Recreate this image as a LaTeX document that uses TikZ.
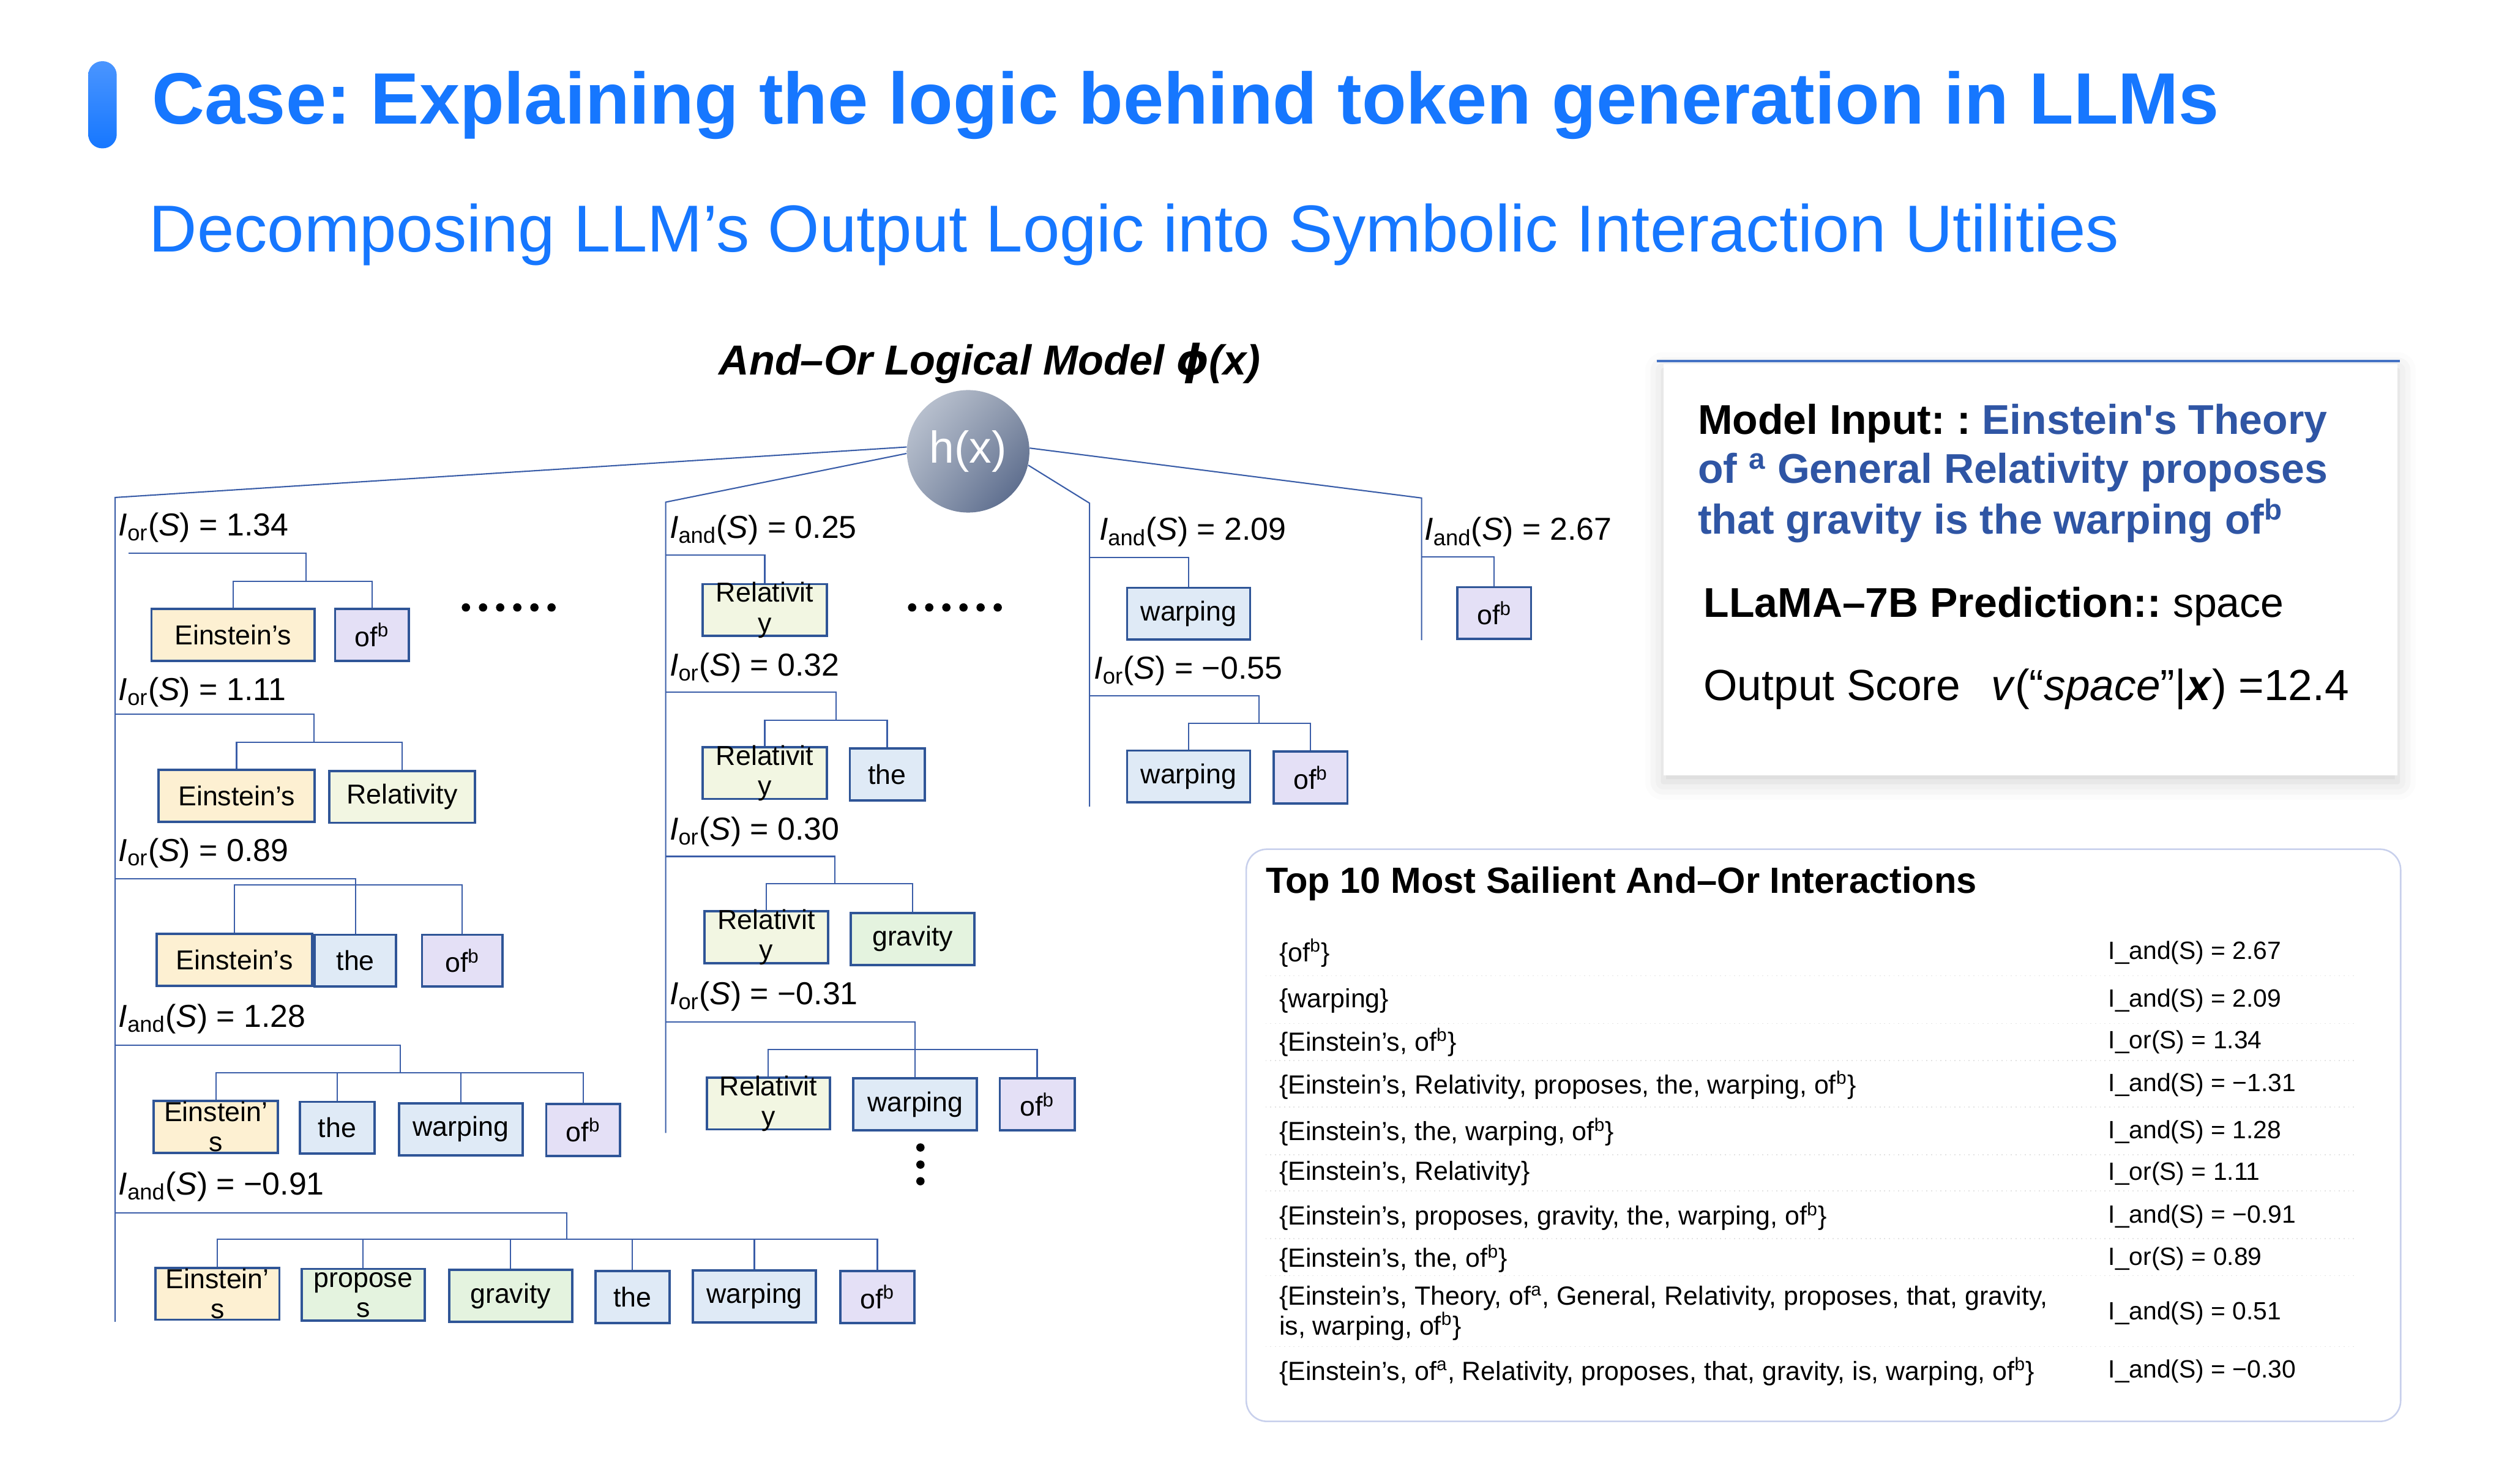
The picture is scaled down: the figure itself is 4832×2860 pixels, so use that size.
\documentclass[tikz,border=0pt]{standalone}
\usepackage{fontspec}
\setmainfont{Liberation Sans}
\newfontfamily\greekfont{DejaVu Sans}
\usetikzlibrary{shadings,shadows.blur}
\frenchspacing

\definecolor{headblue}{HTML}{1677FF}
\definecolor{barlight}{HTML}{4A95FF}
\definecolor{boxblue}{HTML}{2F5597}
\definecolor{linkblue}{HTML}{3A5DA8}
\definecolor{inputblue}{HTML}{2F55A4}
\definecolor{topline}{HTML}{4472C4}
\definecolor{panelline}{HTML}{C8D0EC}
\definecolor{sepgray}{HTML}{E2E2E2}
\definecolor{einfill}{HTML}{FDF0D2}
\definecolor{offill}{HTML}{E4E0F6}
\definecolor{thefill}{HTML}{DFEAF6}
\definecolor{relfill}{HTML}{F2F6E2}
\definecolor{gravfill}{HTML}{E4F3DF}
\definecolor{ballA}{HTML}{C6CDD9}
\definecolor{ballB}{HTML}{8D98AC}
\definecolor{ballC}{HTML}{98A3B6}
\definecolor{ballD}{HTML}{4B5D82}

\newcommand{\headfont}{\fontsize{39.9pt}{46pt}\selectfont\bfseries}
\newcommand{\subfont}{\fontsize{36.4pt}{42pt}\selectfont}
\newcommand{\modelfont}{\fontsize{23pt}{27pt}\selectfont\bfseries\itshape}
\newcommand{\lblfont}{\fontsize{17.4pt}{21pt}\selectfont}
\newcommand{\tokfont}{\fontsize{15pt}{16.5pt}\selectfont}
\newcommand{\inputfont}{\fontsize{22.8pt}{27pt}\selectfont}
\newcommand{\scorefont}{\fontsize{23.9pt}{28pt}\selectfont}
\newcommand{\tabheadfont}{\fontsize{20pt}{24pt}\selectfont\bfseries}
\newcommand{\rowfont}{\fontsize{14.4pt}{16.2pt}\selectfont}
\newcommand{\valfont}{\fontsize{13.7pt}{16.2pt}\selectfont}
\newcommand{\Ior}{\textit{I}\textsubscript{or}(\textit{S}) = }
\newcommand{\Iand}{\textit{I}\textsubscript{and}(\textit{S}) = }
\newcommand{\ofb}{of\textsuperscript{b}}

\begin{document}
\begin{tikzpicture}[x=0.01cm, y=-0.01cm,
    link/.style={draw=linkblue, line width=0.025cm},
    tok/.style={draw=boxblue, line width=0.045cm, inner sep=0, minimum height=1cm, font=\tokfont},
    wraptext/.style={align=center, inner sep=0, font=\tokfont},
    lbl/.style={anchor=base west, inner sep=0, font=\lblfont},
    row/.style={anchor=west, inner sep=0, align=left, font=\rowfont},
    inp/.style={anchor=base west, inner sep=0, font=\inputfont}]
\useasboundingbox (0,0) rectangle (4832,2860);

\shade[top color=barlight, bottom color=headblue, rounded corners=0.27cm] (170,118) rectangle (225,286);
\node[anchor=base west, inner sep=0, font=\headfont, text=headblue] (head) at (293,239) {Case: Explaining the logic behind token generation in LLMs};
\node[anchor=base west, inner sep=0, font=\subfont, text=headblue] (sub) at (287,485) {Decomposing LLM’s Output Logic into Symbolic Interaction Utilities};

\node[anchor=base west, inner sep=0, font=\modelfont] (mtitle) at (1385,723) {And–Or Logical Model {\greekfont ϕ}(x)};
\node[circle, minimum size=2.36cm, inner sep=0, upper left=ballA, upper right=ballB, lower left=ballC, lower right=ballD, text=white, font=\fontsize{24.5pt}{28pt}\selectfont] (hx) at (1866,870) {h(x)};

\coordinate (trunkL) at (222,959);   \coordinate (trunkLend) at (222,2548);
\coordinate (trunkM) at (1283,968);  \coordinate (trunkMend) at (1283,2184);
\coordinate (trunkR) at (2100,970);  \coordinate (trunkRend) at (2100,1555);
\coordinate (trunkF) at (2740,960);  \coordinate (trunkFend) at (2740,1234);
\draw[link] (hx.176) -- (trunkL) -- (trunkLend);
\draw[link] (hx.182) -- (trunkM) -- (trunkMend);
\draw[link] (hx.-13) -- (trunkR) -- (trunkRend);
\draw[link] (hx.3) -- (trunkF) -- (trunkFend);

\node[lbl] (lblA) at (228,1033) {\Ior1.34};
\node[tok, fill=einfill, minimum width=3.14cm] (einA) at (449,1224) {Einstein’s};
\node[tok, fill=offill, minimum width=1.42cm] (ofA) at (717,1224) {\ofb};
\coordinate (sA) at (248,1066); \coordinate (jA) at (590,1121);
\draw[link] (sA) -| (jA);
\draw[link] (einA.north) |- (jA) -| (ofA.north);
\foreach \i in {0,...,5} \fill (898+\i*33,1171) circle (0.08cm);

\node[lbl] (lblB) at (228,1350) {\Ior1.11};
\node[tok, fill=einfill, minimum width=3.01cm] (einB) at (456,1534) {Einstein’s};
\node[tok, fill=relfill, minimum width=2.80cm] (relB) at (775,1536) {Relativity};
\coordinate (sB) at (222,1377); \coordinate (jB) at (605,1431);
\draw[link] (sB) -| (jB);
\draw[link] (einB.north) |- (jB) -| (relB.north);

\node[lbl] (lblC) at (228,1660) {\Ior0.89};
\node[tok, fill=einfill, minimum width=3.00cm] (einC) at (452,1850) {Einstein’s};
\node[tok, fill=thefill, minimum width=1.57cm] (theC) at (685,1852) {the};
\node[tok, fill=offill, minimum width=1.55cm] (ofC) at (891,1852) {\ofb};
\coordinate (sC) at (222,1694); \coordinate (jC) at (685,1706);
\draw[link] (sC) -| (theC.north);
\draw[link] (einC.north) |- (jC) -| (ofC.north);

\node[lbl] (lblD) at (228,1980) {\Iand1.28};
\node[tok, fill=einfill, minimum width=2.39cm, label={[wraptext]center:Einstein’\\s}] (einD) at (416,2172) {};
\node[tok, fill=thefill, minimum width=1.43cm] (theD) at (650,2174) {the};
\node[tok, fill=thefill, minimum width=2.38cm] (warpD) at (888,2177) {warping};
\node[tok, fill=offill, minimum width=1.42cm] (ofD) at (1124,2178) {\ofb};
\coordinate (sD) at (222,2015); \coordinate (jD) at (772,2068);
\draw[link] (sD) -| (jD);
\draw[link] (einD.north) |- (jD) -| (ofD.north);
\foreach \n in {theD,warpD} \draw[link] (\n.north) -- (\n.north |- jD);

\node[lbl] (lblE) at (228,2303) {\Iand−0.91};
\node[tok, fill=einfill, minimum width=2.39cm, label={[wraptext]center:Einstein’\\s}] (einE) at (419,2494) {};
\node[tok, fill=gravfill, minimum width=2.37cm, label={[wraptext]center:propose\\s}] (propE) at (700,2496) {};
\node[tok, fill=gravfill, minimum width=2.37cm] (gravE) at (984,2498) {gravity};
\node[tok, fill=thefill, minimum width=1.43cm] (theE) at (1219,2500) {the};
\node[tok, fill=thefill, minimum width=2.37cm] (warpE) at (1454,2499) {warping};
\node[tok, fill=offill, minimum width=1.42cm] (ofE) at (1691,2500) {\ofb};
\coordinate (sE) at (222,2338); \coordinate (jE) at (1092,2389);
\draw[link] (sE) -| (jE);
\draw[link] (einE.north) |- (jE) -| (ofE.north);
\foreach \n in {propE,gravE,theE,warpE} \draw[link] (\n.north) -- (\n.north |- jE);

\node[lbl] (lblF) at (1290,1037) {\Iand0.25};
\node[tok, fill=relfill, minimum width=2.39cm, label={[wraptext]center:Relativit\\y}] (relF) at (1474,1176) {};
\coordinate (sF) at (1283,1070);
\draw[link] (sF) -| (relF.north);
\foreach \i in {0,...,5} \fill (1758+\i*33,1171) circle (0.08cm);

\node[lbl] (lblG) at (1290,1303) {\Ior0.32};
\node[tok, fill=relfill, minimum width=2.39cm, label={[wraptext]center:Relativit\\y}] (relG) at (1474,1490) {};
\node[tok, fill=thefill, minimum width=1.44cm] (theG) at (1710,1493) {the};
\coordinate (sG) at (1283,1334); \coordinate (jG) at (1611,1388);
\draw[link] (sG) -| (jG);
\draw[link] (relG.north) |- (jG) -| (theG.north);

\node[lbl] (lblH) at (1290,1619) {\Ior0.30};
\node[tok, fill=relfill, minimum width=2.39cm, label={[wraptext]center:Relativit\\y}] (relH) at (1477,1807) {};
\node[tok, fill=gravfill, minimum width=2.38cm] (gravH) at (1759,1810) {gravity};
\coordinate (sH) at (1283,1651); \coordinate (jH) at (1609,1703);
\draw[link] (sH) -| (jH);
\draw[link] (relH.north) |- (jH) -| (gravH.north);

\node[lbl] (lblI) at (1290,1937) {\Ior−0.31};
\node[tok, fill=relfill, minimum width=2.37cm, label={[wraptext]center:Relativit\\y}] (relI) at (1481,2127) {};
\node[tok, fill=thefill, minimum width=2.38cm] (warpI) at (1764,2129) {warping};
\node[tok, fill=offill, minimum width=1.44cm] (ofI) at (1999,2129) {\ofb};
\coordinate (sI) at (1283,1970); \coordinate (jI) at (1764,2023);
\draw[link] (sI) -| (warpI.north);
\draw[link] (relI.north) |- (jI) -| (ofI.north);
\foreach \d in {2212,2245,2277} \fill (1774,\d) circle (0.08cm);

\node[lbl] (lblJ) at (2118,1041) {\Iand2.09};
\node[tok, fill=thefill, minimum width=2.37cm] (warpJ) at (2291,1183) {warping};
\coordinate (sJ) at (2100,1075);
\draw[link] (sJ) -| (warpJ.north);

\node[lbl] (lblK) at (2108,1309) {\Ior−0.55};
\node[tok, fill=thefill, minimum width=2.37cm] (warpK) at (2291,1497) {warping};
\node[tok, fill=offill, minimum width=1.42cm] (ofK) at (2526,1499) {\ofb};
\coordinate (sK) at (2100,1341); \coordinate (jK) at (2427,1394);
\draw[link] (sK) -| (jK);
\draw[link] (warpK.north) |- (jK) -| (ofK.north);

\node[lbl] (lblL) at (2745,1041) {\Iand2.67};
\node[tok, fill=offill, minimum width=1.42cm] (ofL) at (2880,1182) {\ofb};
\coordinate (sL) at (2740,1074);
\draw[link] (sL) -| (ofL.north);

\path[fill=white, blur shadow={shadow xshift=0cm, shadow yshift=-0.12cm, shadow blur radius=0.35cm, shadow opacity=18}] (3206,702) rectangle (4621,1495);
\draw[topline, line width=0.05cm] (3193,696) -- (4625,696);
\node[inp] (in1) at (3272,837) {\textbf{Model Input: : }\textcolor{inputblue}{\textbf{Einstein\textquotesingle s Theory}}};
\node[inp, text=inputblue, font=\inputfont\bfseries] (in2) at (3272,931) {of \textsuperscript{a} General Relativity proposes};
\node[inp, text=inputblue, font=\inputfont\bfseries] (in3) at (3272,1029) {that gravity is the warping \ofb};
\node[inp] (pred) at (3283,1190) {\textbf{LLaMA–7B Prediction::} space};
\node[inp, font=\scorefont] (score) at (3283,1350) {Output Score\hspace{0.7em}\textit{v}(“\textit{space}”|\textbf{\textit{x}}) =12.4};

\draw[panelline, line width=0.03cm, fill=white, rounded corners=0.4cm] (2402,1637) rectangle (4627,2740);
\node[anchor=base west, inner sep=0, font=\tabheadfont] (tabhead) at (2439,1722) {Top 10 Most Sailient And–Or Interactions};
\foreach \y in {1881,1973,2044,2134,2226,2296,2388,2459,2596}
  \draw[sepgray, line width=0.02cm, dotted] (2439,\y) -- (4544,\y);
\foreach \y/\s/\v [count=\i] in {
    1837/{\{\ofb\}}/{I\_and(S) = 2.67},
    1929/{\{warping\}}/{I\_and(S) = 2.09},
    2009/{\{Einstein’s, \ofb\}}/{I\_or(S) = 1.34},
    2092/{\{Einstein’s, Relativity, proposes, the, warping, \ofb\}}/{I\_and(S) = −1.31},
    2182/{\{Einstein’s, the, warping, \ofb\}}/{I\_and(S) = 1.28},
    2262/{\{Einstein’s, Relativity\}}/{I\_or(S) = 1.11},
    2345/{\{Einstein’s, proposes, gravity, the, warping, \ofb\}}/{I\_and(S) = −0.91},
    2426/{\{Einstein’s, the, \ofb\}}/{I\_or(S) = 0.89},
    2531/{\{Einstein’s, Theory, of\textsuperscript{a}, General, Relativity, proposes, that, gravity,\\is, warping, \ofb\}}/{I\_and(S) = 0.51},
    2644/{\{Einstein’s, of\textsuperscript{a}, Relativity, proposes, that, gravity, is, warping, \ofb\}}/{I\_and(S) = −0.30}}
  {
  \node[row] (set\i) at (2465,\y) {\s};
  \node[row, font=\valfont] (val\i) at (4063,\y) {\v};
  }
\end{tikzpicture}
\end{document}
